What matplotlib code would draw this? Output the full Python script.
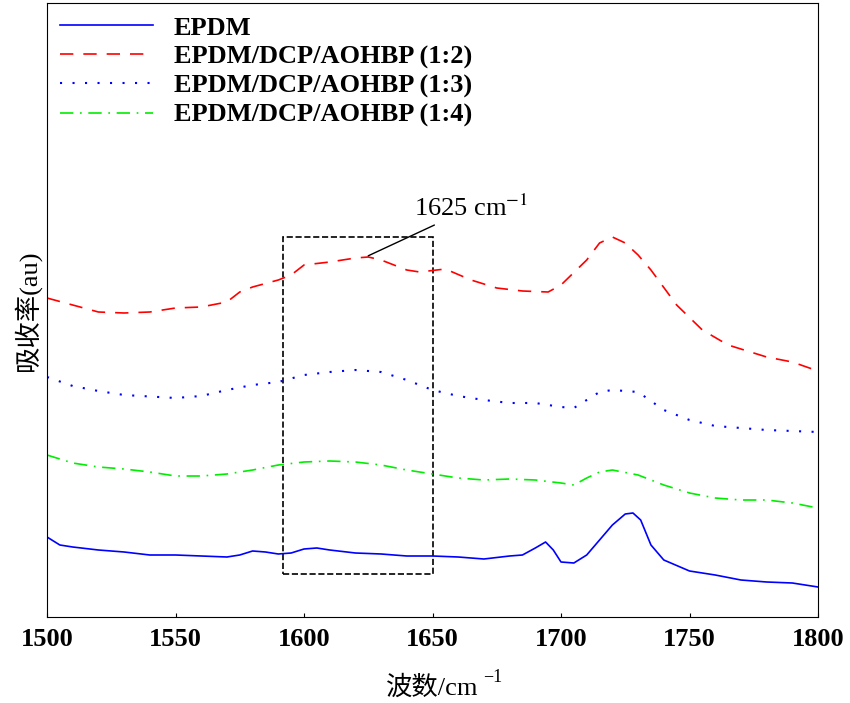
import matplotlib
matplotlib.use("Agg")
import matplotlib.pyplot as plt
from matplotlib.patches import Rectangle

plt.rcParams['font.family'] = ['Liberation Serif', 'Noto Sans CJK SC']
plt.rcParams['mathtext.fontset'] = 'stix'

x_epdm = [1500,1505,1510,1520,1530,1540,1550,1560,1570,1575,1580,1585,1590,1595,1600,1605,1610,1620,1630,1640,1650,1660,1670,1680,1685,1690,1694,1697,1700,1705,1710,1715,1720,1725,1728,1731,1735,1740,1750,1760,1770,1780,1790,1800]
y_epdm_px = [537,545,547,550,552,555,555,556,557,555,551,552,554,553,549,548,550,553,554,556,556,557,559,556,555,548,542,550,562,563,555,540,525,514,513,520,545,560,571,575,580,582,583,587]
x_r2 = [1500,1510,1520,1530,1540,1550,1560,1570,1575,1580,1590,1595,1600,1610,1620,1625,1630,1640,1645,1655,1665,1675,1685,1695,1700,1710,1715,1720,1725,1730,1735,1745,1755,1765,1780,1790,1800]
y_r2_px = [298,305,312,313,312,308,307,302,292,287,280,275,265,262,258,257,260,270,272,269,280,288,291,292,285,260,243,237,243,255,270,305,330,345,357,362,371]
x_r3 = [1500,1510,1520,1530,1550,1560,1570,1580,1590,1600,1610,1620,1630,1640,1650,1660,1670,1680,1690,1700,1705,1710,1715,1720,1730,1740,1750,1760,1770,1780,1800]
y_r3_px = [377,386,391,395,398,396,390,385,382,375,372,370,372,380,390,396,400,403,403,407,408,400,392,390,392,410,420,426,428,430,432]
x_r4 = [1500,1510,1520,1530,1540,1550,1560,1570,1580,1590,1600,1610,1620,1630,1640,1650,1660,1670,1680,1690,1700,1705,1710,1715,1720,1730,1740,1750,1760,1770,1780,1790,1800]
y_r4_px = [455,463,467,469,472,476,476,474,470,465,462,461,462,465,470,474,478,480,479,480,483,485,478,472,470,475,485,493,498,500,500,503,508]

def conv(v): return [620 - p for p in v]

fig = plt.figure(figsize=(8.5, 7.03), dpi=100)
ax = fig.add_axes([47/850, 86/703, 771/850, 614/703])
ax.plot(x_epdm, conv(y_epdm_px), color='#0000ff', lw=1.2, label='EPDM')
ax.plot(x_r2, conv(y_r2_px), color='#ff0000', lw=1.2, ls=(0, (8, 6)), label='EPDM/DCP/AOHBP (1:2)')
ax.plot(x_r3, conv(y_r3_px), color='#0000ff', lw=1.5, ls=(0, (1, 5)), label='EPDM/DCP/AOHBP (1:3)')
ax.plot(x_r4, conv(y_r4_px), color='#00ee00', lw=1.2, ls=(0, (8, 4, 1, 4)), label='EPDM/DCP/AOHBP (1:4)')

ax.add_patch(Rectangle((1592, 46), 58, 337, fill=False, ls='--', lw=1.2, color='black'))
ax.annotate('1625 cm$^{-1}$', xy=(1624, 363), xytext=(1665, 412), ha='center', va='center',
            fontsize=19, arrowprops=dict(arrowstyle='-', color='black', lw=1))

ax.set_xlim(1500, 1800)
ax.set_ylim(3, 617)
ax.set_yticks([])
ax.set_xticks([1500,1550,1600,1650,1700,1750,1800])
ax.tick_params(axis='x', direction='in', labelsize=19, pad=8, length=3)
for lab in ax.get_xticklabels():
    lab.set_fontweight('bold')
fig.text(432/850, 1 - 688/703, '波数/cm', fontsize=19, ha='center', va='center')
fig.text(483/850, 1 - 678/703, '−1', fontsize=13, ha='left', va='center')
ax.set_ylabel('吸收率(au)', fontsize=19)
leg = ax.legend(loc='upper left', frameon=False, fontsize=19, handlelength=3.5,
                borderaxespad=0.1, labelspacing=0.2, prop={'weight': 'bold', 'size': 19})
fig.savefig('out.png', dpi=100)
